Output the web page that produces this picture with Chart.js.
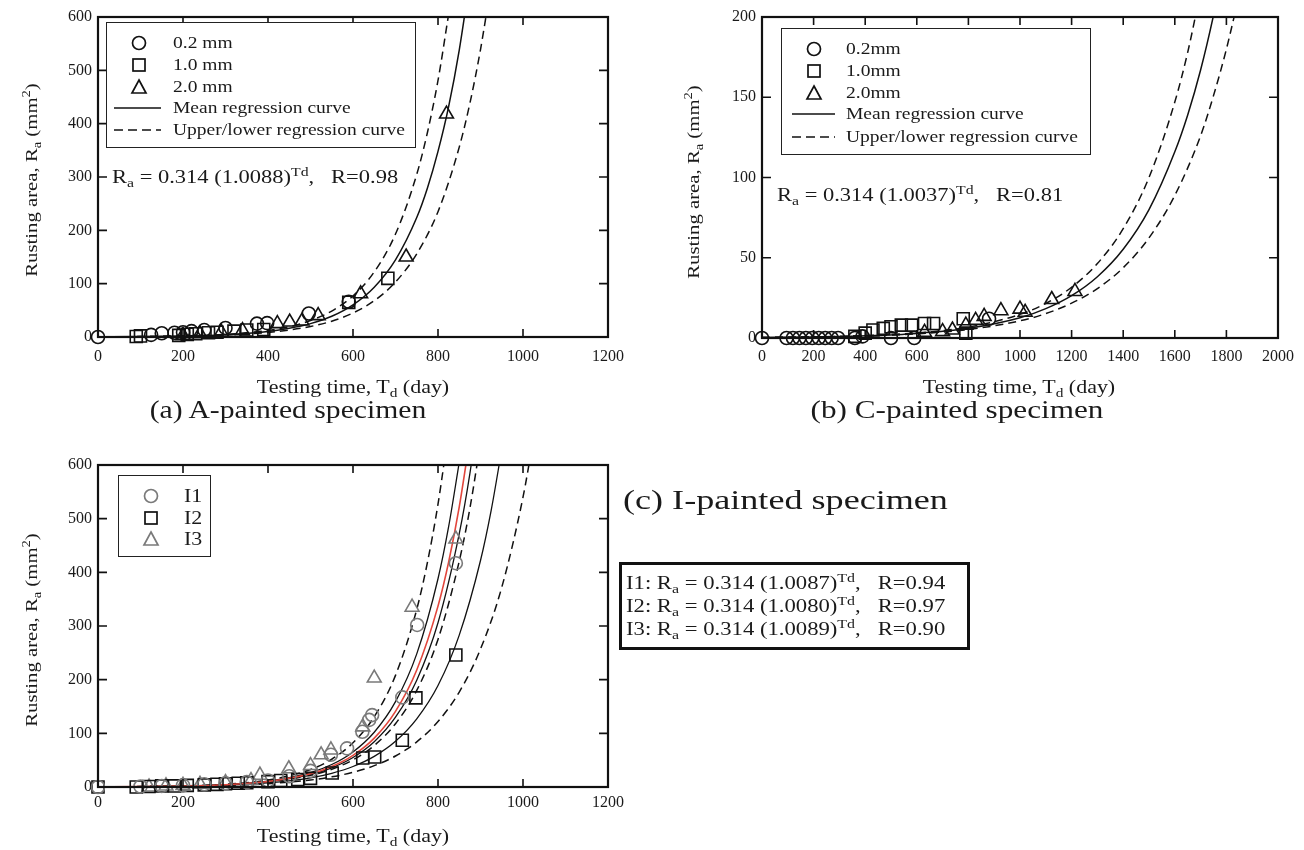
<!DOCTYPE html>
<html><head><meta charset="utf-8">
<script src="https://cdn.jsdelivr.net/npm/chart.js@4.4.1/dist/chart.umd.min.js"></script>
<style>
html,body{margin:0;padding:0;background:#fff;}
#root{position:relative;width:1304px;height:850px;overflow:hidden;background:#fff;}
canvas{position:absolute;}
.t{position:absolute;font-family:'Liberation Serif','Times New Roman',serif;color:#1a1a1a;white-space:nowrap;line-height:1;}
.c{transform:translate(-50%,-50%) scaleX(1.22);}
.l{transform-origin:0 50%;transform:translateY(-50%) scaleX(1.22);}
.r{transform:translate(-50%,-50%) rotate(-90deg) scaleX(1.22);}
sub,sup{font-size:0.7em;line-height:0;position:relative;vertical-align:baseline;}
sub{top:0.3em;} sup{top:-0.55em;}
.box{position:absolute;background:#fff;border:1.5px solid #222;box-sizing:border-box;}
#ov{position:absolute;left:0;top:0;}
</style></head>
<body><div id="root">
<canvas id="ca" width="640" height="372" style="left:0;top:0"></canvas>
<canvas id="cb" width="654" height="372" style="left:650px;top:0"></canvas>
<canvas id="cc" width="640" height="372" style="left:0;top:448px"></canvas>

<div class="box" style="left:106px;top:22px;width:310px;height:126px"></div>
<div class="box" style="left:781px;top:28px;width:310px;height:127px"></div>
<div class="box" style="left:118px;top:475px;width:93px;height:82px"></div>
<div class="box" style="left:619px;top:562px;width:351px;height:88px;border:3px solid #111"></div>

<svg id="ov" width="1304" height="850">
 <g fill="none" stroke="#111" stroke-width="1.7">
  <circle cx="139" cy="43" r="6.5"/>
  <rect x="133" y="59" width="12" height="12"/>
  <polygon points="139,80 146,93 132,93"/>
  <line x1="114" y1="108" x2="161" y2="108"/>
  <line x1="114" y1="130" x2="161" y2="130" stroke-dasharray="9,5"/>
  <circle cx="814" cy="49" r="6.5"/>
  <rect x="808" y="65" width="12" height="12"/>
  <polygon points="814,86 821,99 807,99"/>
  <line x1="792" y1="114" x2="835" y2="114"/>
  <line x1="792" y1="137" x2="835" y2="137" stroke-dasharray="9,5"/>
  <circle cx="151" cy="496" r="6.5" stroke="#7a7a7a"/>
  <rect x="145" y="512" width="12" height="12"/>
  <polygon points="151,532 158,545 144,545" stroke="#7a7a7a"/>
 </g>
</svg>

<!-- panel a texts -->
<div class="t r" style="left:31px;top:180px;font-size:17px">Rusting area, R<sub>a</sub> (mm<sup>2</sup>)</div>
<div class="t c" style="left:353px;top:387px;font-size:18px">Testing time, T<sub>d</sub> (day)</div>
<div class="t c" style="left:288px;top:410px;font-size:26px;transform:translate(-50%,-50%) scaleX(1.14)">(a) A-painted specimen</div>
<div class="t l" style="left:173px;top:43px;font-size:16px">0.2 mm</div>
<div class="t l" style="left:173px;top:65px;font-size:16px">1.0 mm</div>
<div class="t l" style="left:173px;top:87px;font-size:16px">2.0 mm</div>
<div class="t l" style="left:173px;top:108px;font-size:16px">Mean regression curve</div>
<div class="t l" style="left:173px;top:130px;font-size:16px">Upper/lower regression curve</div>
<div class="t l" style="left:112px;top:177px;font-size:18px;transform:translateY(-50%) scaleX(1.25)">R<sub>a</sub> = 0.314 (1.0088)<sup>Td</sup>,&nbsp;&nbsp;&nbsp;R=0.98</div>

<!-- panel b texts -->
<div class="t r" style="left:693px;top:182px;font-size:17px">Rusting area, R<sub>a</sub> (mm<sup>2</sup>)</div>
<div class="t c" style="left:1019px;top:387px;font-size:18px">Testing time, T<sub>d</sub> (day)</div>
<div class="t c" style="left:957px;top:410px;font-size:26px;transform:translate(-50%,-50%) scaleX(1.2)">(b) C-painted specimen</div>
<div class="t l" style="left:846px;top:49px;font-size:16px">0.2mm</div>
<div class="t l" style="left:846px;top:71px;font-size:16px">1.0mm</div>
<div class="t l" style="left:846px;top:93px;font-size:16px">2.0mm</div>
<div class="t l" style="left:846px;top:114px;font-size:16px">Mean regression curve</div>
<div class="t l" style="left:846px;top:137px;font-size:16px">Upper/lower regression curve</div>
<div class="t l" style="left:777px;top:195px;font-size:18px;transform:translateY(-50%) scaleX(1.25)">R<sub>a</sub> = 0.314 (1.0037)<sup>Td</sup>,&nbsp;&nbsp;&nbsp;R=0.81</div>

<!-- panel c texts -->
<div class="t r" style="left:31px;top:630px;font-size:17px">Rusting area, R<sub>a</sub> (mm<sup>2</sup>)</div>
<div class="t c" style="left:353px;top:836px;font-size:18px">Testing time, T<sub>d</sub> (day)</div>
<div class="t l" style="left:623px;top:500px;font-size:28px;transform:translateY(-50%) scaleX(1.29)">(c) I-painted specimen</div>
<div class="t l" style="left:184px;top:496px;font-size:18px">I1</div>
<div class="t l" style="left:184px;top:518px;font-size:18px">I2</div>
<div class="t l" style="left:184px;top:539px;font-size:18px">I3</div>
<div class="t l" style="left:626px;top:583px;font-size:18px;transform:translateY(-50%) scaleX(1.26)">I1: R<sub>a</sub> = 0.314 (1.0087)<sup>Td</sup>,&nbsp;&nbsp;&nbsp;R=0.94</div>
<div class="t l" style="left:626px;top:606px;font-size:18px;transform:translateY(-50%) scaleX(1.26)">I2: R<sub>a</sub> = 0.314 (1.0080)<sup>Td</sup>,&nbsp;&nbsp;&nbsp;R=0.97</div>
<div class="t l" style="left:626px;top:629px;font-size:18px;transform:translateY(-50%) scaleX(1.26)">I3: R<sub>a</sub> = 0.314 (1.0089)<sup>Td</sup>,&nbsp;&nbsp;&nbsp;R=0.90</div>
</div>

<script>
// ---------- tick labels ----------
const aXTicks = [0, 200, 400, 600, 800, 1000, 1200];
const aYTicks = [0, 100, 200, 300, 400, 500, 600];
const bXTicks = [0, 200, 400, 600, 800, 1000, 1200, 1400, 1600, 1800, 2000];
const bYTicks = [0, 50, 100, 150, 200];
const cXTicks = [0, 200, 400, 600, 800, 1000, 1200];
const cYTicks = [0, 100, 200, 300, 400, 500, 600];

// ---------- panel (a) A-painted ----------
const aCircle02 = [[0,0],[125,4],[150,7],[180,8],[200,9],[220,11],[250,13],[300,17],[374,25],[398,26],[496,44],[590,66]];
const aSquare10 = [[90,1],[100,2],[190,3],[210,5],[230,6],[260,8],[280,9],[320,11],[350,13],[390,14],[590,65],[682,110]];
const aTriangle20 = [[200,3],[240,6],[290,9],[340,12],[422,25],[451,28],[480,30],[518,40],[618,81],[725,150],[820,418]];
const aMean = [[0,0.31],[100,0.75],[200,1.81],[300,4.35],[400,10.5],[450,16.2],[500,25.1],[550,38.9],[600,60.3],[650,93.4],[700,144.7],[750,224],[775,279],[800,348],[825,432],[850,538],[875,670]];
const aUpper = [[0,0.31],[100,0.79],[200,1.97],[300,4.91],[400,12.3],[450,19.4],[500,30.8],[550,48.7],[600,77],[650,122],[700,193],[750,305],[775,383],[800,481],[825,605]];
const aLower = [[0,0.31],[100,0.72],[200,1.64],[300,3.76],[400,8.6],[450,13.0],[500,19.7],[550,29.7],[600,45.0],[650,68.1],[700,103],[750,156],[800,235],[850,356],[875,438],[900,539],[925,662]];

// ---------- panel (b) C-painted ----------
const bCircle02 = [[0,0],[95,0],[120,0],[145,0],[170,0],[195,0],[220,0],[245,0],[270,0],[295,0],[360,0],[390,1],[500,0],[590,0],[880,12]];
const bSquare10 = [[360,1],[400,3],[430,5],[470,6],[500,7],[540,8],[580,8],[630,9],[665,9],[780,12],[790,3]];
const bTriangle20 = [[630,3.5],[700,4],[738,5],[790,8],[828,11],[861,13.5],[926,17],[1000,18],[1020,16],[1123,24],[1213,29]];
const bMean = [[0,0.31],[200,0.66],[400,1.38],[600,2.88],[800,6.03],[1000,12.6],[1100,18.3],[1200,26.4],[1300,38.2],[1400,55.3],[1500,80],[1600,116],[1650,139],[1700,167],[1750,201],[1775,221]];
const bUpper = [[0,0.31],[200,0.68],[400,1.46],[600,3.15],[800,6.8],[1000,14.7],[1100,21.5],[1200,31.6],[1300,46.4],[1400,68.1],[1500,100],[1600,147],[1650,178],[1700,216]];
const bLower = [[0,0.31],[200,0.64],[400,1.29],[600,2.61],[800,5.28],[1000,10.7],[1100,15.2],[1200,21.7],[1300,30.8],[1400,43.8],[1500,62.4],[1600,88.8],[1700,126],[1750,151],[1800,180],[1850,214]];

// ---------- panel (c) I-painted ----------
const cI1 = [[0,0],[100,1],[150,2],[200,3],[250,5],[300,7],[350,9],[400,12],[450,20],[500,30],[548,60],[586,72],[622,103],[638,125],[645,134],[716,167],[751,302],[842,417]];
const cI2 = [[0,0],[90,0],[120,1],[150,2],[180,2],[210,3],[250,4],[280,5],[300,6],[330,7],[350,8],[400,10],[430,12],[470,14],[500,16],[551,26],[623,54],[651,56],[716,87],[748,166],[842,246]];
const cI3 = [[120,0],[160,2],[200,3],[240,5],[300,8],[360,12],[381,22],[449,34],[500,40],[525,60],[548,69],[623,112],[650,203],[739,335],[842,462]];
const cUpperDash = [[0,0.31],[100,0.79],[200,2.01],[300,5.08],[400,12.9],[500,32.5],[550,51.7],[600,82.3],[650,131],[700,208],[750,331],[775,418],[800,527],[825,664]];
const cMeanI3 = [[0,0.31],[100,0.76],[200,1.86],[300,4.53],[400,11.0],[500,26.9],[550,41.9],[600,65.4],[650,102],[700,159],[750,248],[800,388],[825,485],[850,605]];
const cMeanI1 = [[0,0.31],[100,0.75],[200,1.80],[300,4.30],[400,10.3],[500,24.6],[550,38.1],[600,58.9],[650,91.1],[700,141],[750,218],[800,337],[825,419],[850,522],[875,649]];
const cSolidMid = [[0,0.31],[100,0.74],[200,1.75],[300,4.15],[400,9.8],[500,23.2],[550,35.7],[600,54.9],[650,84.3],[700,130],[750,199],[800,306],[850,472],[875,584],[900,725]];
const cMidDash = [[0,0.31],[100,0.73],[200,1.71],[300,3.98],[400,9.3],[500,21.7],[550,33.1],[600,50.6],[650,77.3],[700,118],[750,180],[800,275],[850,421],[875,519],[900,642]];
const cMeanI2 = [[0,0.31],[100,0.70],[200,1.56],[300,3.46],[400,7.7],[500,17.2],[550,25.6],[600,38.2],[650,57.0],[700,85.1],[750,127],[800,189],[850,283],[900,422],[925,515],[950,629]];
const cLowerDash = [[0,0.31],[100,0.66],[200,1.39],[300,2.94],[400,6.2],[500,13.0],[550,18.9],[600,27.4],[650,39.8],[700,57.8],[750,84],[800,122],[850,177],[900,257],[950,372],[1000,540],[1025,651]];

const FONT = "'Liberation Serif', 'Times New Roman', serif";
const INK = '#111';
const GRAY = '#7a7a7a';
const RED = '#e2463c';

function P(a){ return a.map(([x,y]) => ({x, y})); }
function marks(arr, style, radius, color){
  return {data:P(arr), showLine:false, pointStyle:style, pointRadius:radius, pointBorderWidth:1.6,
    pointBorderColor:color, pointBackgroundColor:'rgba(0,0,0,0)', borderColor:color,
    backgroundColor:'rgba(0,0,0,0)', clip:false};
}
function curve(arr, color, dash, width){
  return {data:P(arr), showLine:true, pointRadius:0, borderColor:color, borderWidth:width || 1.5,
    borderDash:dash || [], cubicInterpolationMode:'monotone', fill:false};
}

const framePlugin = {
  id:'frame',
  afterDatasetsDraw(chart){
    const {ctx, chartArea:{left, right, top, bottom}, scales:{x, y}} = chart;
    ctx.save();
    ctx.strokeStyle = INK;
    ctx.lineWidth = 1.6;
    ctx.beginPath();
    x.ticks.forEach(t => {
      const p = x.getPixelForValue(t.value);
      if (p <= left + 1 || p >= right - 1) return;
      ctx.moveTo(p, bottom); ctx.lineTo(p, bottom - 8);
      ctx.moveTo(p, top); ctx.lineTo(p, top + 8);
    });
    y.ticks.forEach(t => {
      const p = y.getPixelForValue(t.value);
      if (p <= top + 1 || p >= bottom - 1) return;
      ctx.moveTo(left, p); ctx.lineTo(left + 9, p);
      ctx.moveTo(right, p); ctx.lineTo(right - 9, p);
    });
    ctx.stroke();
    ctx.lineWidth = 2.2;
    ctx.strokeRect(left, top, right - left, bottom - top);
    ctx.restore();
  }
};

function build(id, o){
  const tickFont = {family: FONT, size: 16};
  return new Chart(document.getElementById(id), {
    type:'scatter',
    data:{datasets:o.datasets},
    plugins:[framePlugin],
    options:{
      responsive:false, animation:false, events:[],
      layout:{padding:o.pad},
      plugins:{legend:{display:false}, tooltip:{enabled:false}},
      scales:{
        x:{type:'linear', min:o.xTicks[0], max:o.xTicks[o.xTicks.length-1],
          grid:{display:false, drawTicks:false}, border:{display:false},
          ticks:{padding:o.xPad, font:tickFont, color:'#1a1a1a', maxRotation:0, autoSkip:false, callback:v => String(v)},
          afterBuildTicks:s => { s.ticks = o.xTicks.map(v => ({value:v})); },
          afterFit:s => { s.height = o.xH; }},
        y:{type:'linear', min:o.yTicks[0], max:o.yTicks[o.yTicks.length-1],
          grid:{display:false, drawTicks:false}, border:{display:false},
          ticks:{padding:6, font:tickFont, color:'#1a1a1a', autoSkip:false, callback:v => String(v)},
          afterBuildTicks:s => { s.ticks = o.yTicks.map(v => ({value:v})); },
          afterFit:s => { s.width = o.yW; }}
      }
    }
  });
}

build('ca', {
  xTicks:aXTicks, yTicks:aYTicks, pad:{top:17, right:32, left:0, bottom:0}, xH:35, yW:98, xPad:10,
  datasets:[
    marks(aCircle02, 'circle', 6.5, INK),
    marks(aSquare10, 'rect', 8.5, INK),
    marks(aTriangle20, 'triangle', 8, INK),
    curve(aMean, INK, [], 1.5),
    curve(aUpper, INK, [8,5], 1.5),
    curve(aLower, INK, [8,5], 1.5)
  ]
});

build('cb', {
  xTicks:bXTicks, yTicks:bYTicks, pad:{top:17, right:26, left:0, bottom:0}, xH:34, yW:112, xPad:9,
  datasets:[
    marks(bCircle02, 'circle', 6.5, INK),
    marks(bSquare10, 'rect', 8.5, INK),
    marks(bTriangle20, 'triangle', 8, INK),
    curve(bMean, INK, [], 1.5),
    curve(bUpper, INK, [8,5], 1.5),
    curve(bLower, INK, [8,5], 1.5)
  ]
});

build('cc', {
  xTicks:cXTicks, yTicks:cYTicks, pad:{top:17, right:32, left:0, bottom:0}, xH:33, yW:98, xPad:6,
  datasets:[
    marks(cI1, 'circle', 6.5, GRAY),
    marks(cI2, 'rect', 8.5, INK),
    marks(cI3, 'triangle', 8, GRAY),
    curve(cMeanI1, RED, [], 1.6),
    curve(cUpperDash, INK, [8,5], 1.5),
    curve(cMeanI3, INK, [], 1.3),
    curve(cSolidMid, INK, [], 1.3),
    curve(cMidDash, INK, [8,5], 1.5),
    curve(cMeanI2, INK, [], 1.3),
    curve(cLowerDash, INK, [8,5], 1.5)
  ]
});
</script>
</body></html>
